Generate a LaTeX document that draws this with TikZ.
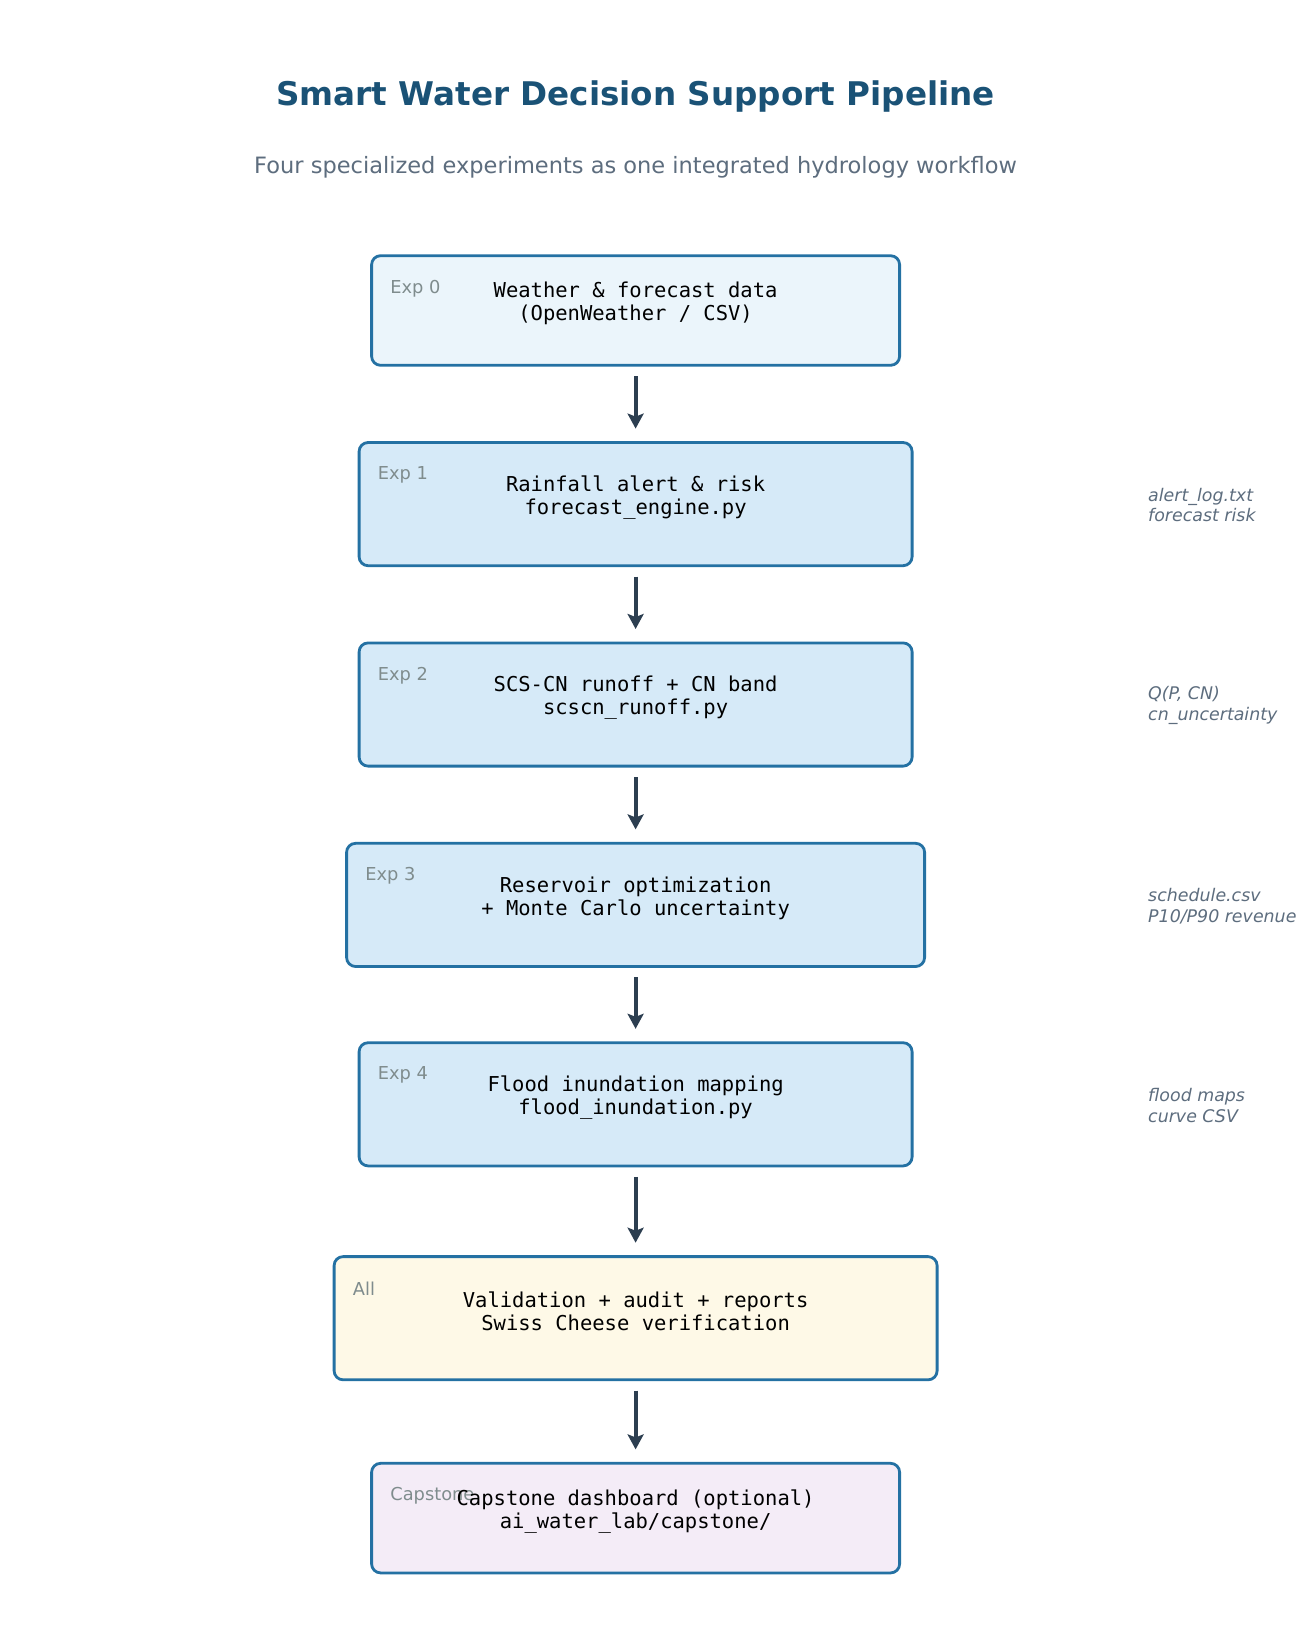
\documentclass[tikz,border=0pt]{standalone}
\usepackage{fontspec}
\setmainfont{DejaVu Sans}
\newfontfamily\monofam{DejaVu Sans Mono}
\usetikzlibrary{arrows.meta}
\definecolor{titlec}{HTML}{1A5276}
\definecolor{subc}{HTML}{5D6D7E}
\definecolor{edgec}{HTML}{2471A3}
\definecolor{fillA}{HTML}{EBF5FB}
\definecolor{fillB}{HTML}{D6EAF8}
\definecolor{fillC}{HTML}{FEF9E7}
\definecolor{fillD}{HTML}{F4ECF7}
\definecolor{tagc}{HTML}{7F8C8D}
\definecolor{arrowc}{HTML}{2C3E50}
\tikzset{
  stagebox/.style={draw=edgec, line width=2.8pt, rounded corners=9pt, inner sep=0pt},
  stagetext/.style={font=\monofam\fontsize{20.5}{23}\selectfont, align=center, inner sep=0pt, text=black},
  tagtext/.style={font=\fontsize{17.8}{21}\selectfont, text=tagc, anchor=west, inner sep=0pt},
  notetext/.style={font=\itshape\fontsize{17.4}{20.9}\selectfont, text=subc, anchor=west, align=left, inner sep=0pt},
  flowarrow/.style={draw=arrowc, line width=4pt, -{Stealth[length=15pt,width=16pt,inset=3pt]}, shorten <=9.5pt, shorten >=12.5pt}
}
\begin{document}
\begin{tikzpicture}[x=1pt,y=-1pt]
\path[use as bounding box, fill=white] (0,0) rectangle (1315,1637);
\node[font=\bfseries\fontsize{32.6}{38}\selectfont, text=titlec] (title) at (635.6,97) {Smart Water Decision Support Pipeline};
\node[font=\fontsize{22.5}{26}\selectfont, text=subc] (subtitle) at (635.6,167) {Four specialized experiments as one integrated hydrology workflow};

% boxes
\node[stagebox, fill=fillA, minimum width=528pt, minimum height=109.6pt] (b0) at (635.6,310.5) {};
\node[stagebox, fill=fillB, minimum width=553pt, minimum height=123.2pt] (b1) at (635.6,504.1) {};
\node[stagebox, fill=fillB, minimum width=553pt, minimum height=123.2pt] (b2) at (635.6,704.5) {};
\node[stagebox, fill=fillB, minimum width=578pt, minimum height=123.2pt] (b3) at (635.6,904.9) {};
\node[stagebox, fill=fillB, minimum width=553pt, minimum height=123.2pt] (b4) at (635.6,1104.3) {};
\node[stagebox, fill=fillC, minimum width=603pt, minimum height=123.2pt] (b5) at (635.6,1318.2) {};
\node[stagebox, fill=fillD, minimum width=528pt, minimum height=109.6pt] (b6) at (635.6,1518.1) {};

% box texts
\node[stagetext] (t0) at ([yshift=7pt]b0.center) {Weather \& forecast data\\(OpenWeather / CSV)};
\node[stagetext] (t1) at ([yshift=7pt]b1.center) {Rainfall alert \& risk\\forecast\_engine.py};
\node[stagetext] (t2) at ([yshift=7pt]b2.center) {SCS-CN runoff + CN band\\scscn\_runoff.py};
\node[stagetext] (t3) at ([yshift=7pt]b3.center) {Reservoir optimization\\+ Monte Carlo uncertainty};
\node[stagetext] (t4) at ([yshift=7pt]b4.center) {Flood inundation mapping\\flood\_inundation.py};
\node[stagetext] (t5) at ([yshift=7pt]b5.center) {Validation + audit + reports\\Swiss Cheese verification};

% tags
\node[tagtext] (g0) at ([xshift=20pt,yshift=-34pt]b0.north west) {Exp 0};
\node[tagtext] (g1) at ([xshift=20pt,yshift=-34pt]b1.north west) {Exp 1};
\node[tagtext] (g2) at ([xshift=20pt,yshift=-34pt]b2.north west) {Exp 2};
\node[tagtext] (g3) at ([xshift=20pt,yshift=-34pt]b3.north west) {Exp 3};
\node[tagtext] (g4) at ([xshift=20pt,yshift=-34pt]b4.north west) {Exp 4};
\node[tagtext] (g5) at ([xshift=20pt,yshift=-34pt]b5.north west) {All};
\node[tagtext] (g6) at ([xshift=20pt,yshift=-34pt]b6.north west) {Capstone};
\node[stagetext] (t6) at ([yshift=7pt]b6.center) {Capstone dashboard (optional)\\ai\_water\_lab/capstone/};

% side notes
\node[notetext] (n1) at (1148,505) {alert\_log.txt\\forecast risk};
\node[notetext] (n2) at (1148,705.5) {Q(P, CN)\\cn\_uncertainty};
\node[notetext] (n3) at (1148,906) {schedule.csv\\P10/P90 revenue};
\node[notetext] (n4) at (1148,1105.5) {flood maps\\curve CSV};

% arrows
\draw[flowarrow] (b0.south) -- (b1.north);
\draw[flowarrow] (b1.south) -- (b2.north);
\draw[flowarrow] (b2.south) -- (b3.north);
\draw[flowarrow] (b3.south) -- (b4.north);
\draw[flowarrow] (b4.south) -- (b5.north);
\draw[flowarrow] (b5.south) -- (b6.north);
\end{tikzpicture}
\end{document}
